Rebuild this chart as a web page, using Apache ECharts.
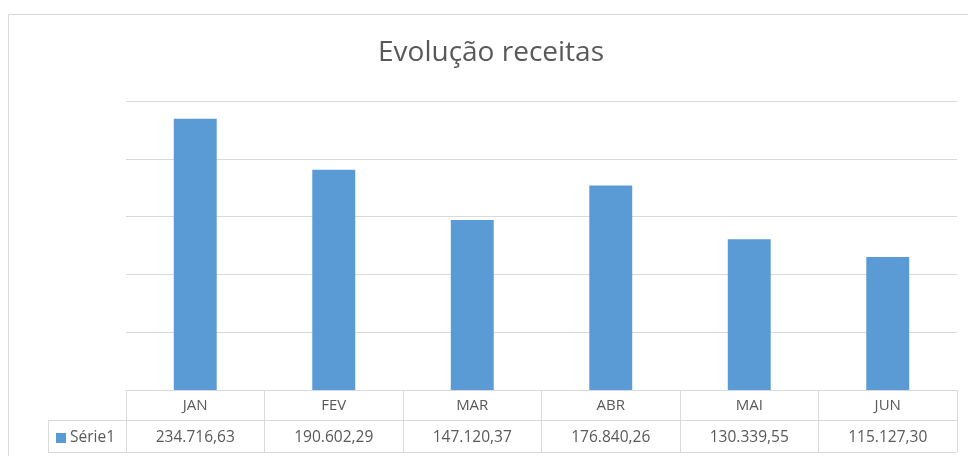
<!DOCTYPE html>
<html><head><meta charset="utf-8">
<script src="https://cdn.jsdelivr.net/npm/echarts@6/dist/echarts.min.js"></script>
<style>html,body{margin:0;padding:0;background:#fff}#c{width:968px;height:456px}</style>
</head><body><div id="c"></div>
<script>
const categories = ['JAN','FEV','MAR','ABR','MAI','JUN'];
const seriesName = 'Série1';
const values = [234716.63, 190602.29, 147120.37, 176840.26, 130339.55, 115127.30];
const yTicks = [0, 50000, 100000, 150000, 200000, 250000];

function fmt(v){
  const parts = v.toFixed(2).split('.');
  const int = parts[0].replace(/\B(?=(\d{3})+(?!\d))/g, '.');
  return int + ',' + parts[1];
}
const GRID_L = 126, GRID_R = 957, GRID_T = 101, GRID_B = 390;
const LINE = '#d9d9d9', TXT = '#595959';
const chart = echarts.init(document.getElementById('c'));
chart.setOption({
  animation: false,
  title: { text: 'Evolução receitas', left: 373, top: 34,
    textStyle: { fontFamily: 'Open Sans', fontSize: 28, fontWeight: 'normal', color: TXT } },
  legend: { left: 51, top: 425, itemWidth: 10, itemHeight: 10, itemGap: 4,
    icon: 'rect', textStyle: { fontFamily: 'Open Sans', fontSize: 15.5, color: TXT, padding:[0,0,0,-1] },
    data: [seriesName] },
  grid: { left: GRID_L, right: 968 - GRID_R, top: GRID_T, bottom: 456 - GRID_B },
  xAxis: [{
    type: 'category', data: categories,
    axisLine: { show: true, lineStyle: { color: LINE, width: 1 } },
    axisTick: { show: true, length: 62, lineStyle: { color: LINE, width: 1 } },
    axisLabel: { margin: 8, interval: 0, fontFamily: 'Open Sans', fontSize: 15, color: TXT }
  }, {
    type: 'category', data: categories, position: 'bottom', offset: 32,
    axisLine: { show: false }, axisTick: { show: false },
    axisLabel: { margin: 8, interval: 0, fontFamily: 'Open Sans', fontSize: 15.5, color: TXT,
      formatter: (v, i) => fmt(values[i]) }
  }],
  yAxis: {
    type: 'value', min: yTicks[0], max: yTicks[yTicks.length - 1], interval: yTicks[1] - yTicks[0],
    axisLabel: { show: false }, axisLine: { show: false }, axisTick: { show: false },
    splitLine: { lineStyle: { color: LINE, width: 1 } }
  },
  series: [{ name: seriesName, type: 'bar', data: values, barWidth: '31%',
    itemStyle: { color: '#5b9bd5' } }],
  graphic: [
    { type: 'rect', shape: { x: 8.5, y: 14.5, width: 1000, height: 500 },
      style: { fill: 'none', stroke: LINE, lineWidth: 1 }, silent: true },
    { type: 'line', shape: { x1: 48, y1: 420.5, x2: GRID_R, y2: 420.5 }, style: { stroke: LINE, lineWidth: 1 } },
    { type: 'line', shape: { x1: 48, y1: 452.5, x2: GRID_R, y2: 452.5 }, style: { stroke: LINE, lineWidth: 1 } },
    { type: 'line', shape: { x1: 48.5, y1: 420, x2: 48.5, y2: 453 }, style: { stroke: LINE, lineWidth: 1 } }
  ]
});
</script></body></html>
